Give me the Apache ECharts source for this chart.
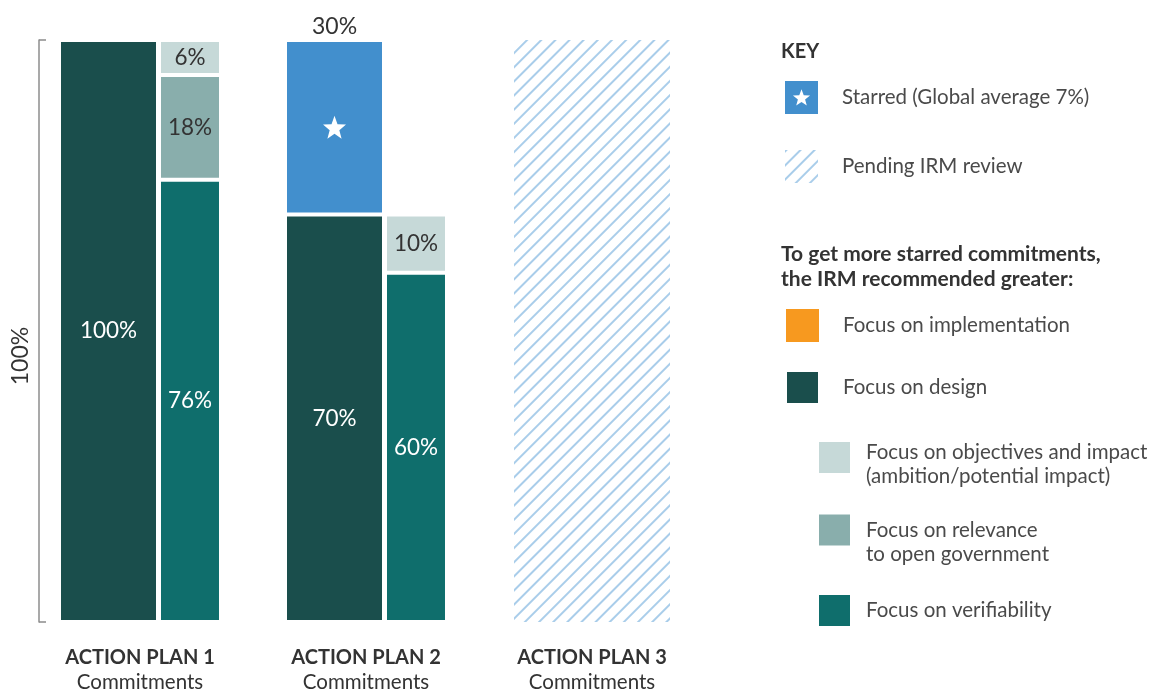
<!DOCTYPE html>
<html>
<head>
<meta charset="utf-8">
<script src="https://cdn.jsdelivr.net/npm/echarts@6/dist/echarts.min.js"></script>
<style>
  html, body { margin: 0; padding: 0; background: #fff; }
  #chart { width: 1158px; height: 689px; }
</style>
</head>
<body>
<div id="chart"></div>
<script>
// data
const categories = ["ACTION PLAN 1", "ACTION PLAN 2", "ACTION PLAN 3"];
const subLabel = "Commitments";
const design = [100, 70, "-"];
const starred = ["-", 30, "-"];
const verifiability = [76, 60, "-"];
const relevance = [18, 0, "-"];
const objectives = [6, 10, "-"];
const pending = ["-", "-", 100];
const implementation = ["-", "-", "-"];

const FONT = "Lato, 'Open Sans', sans-serif";
const TEXT = "#333333";

const names = {
  starred: "Starred (Global average 7%)",
  pending: "Pending IRM review",
  impl: "Focus on implementation",
  design: "Focus on design",
  objectives: "Focus on objectives and impact",
  relevance: "Focus on relevance to open government",
  verif: "Focus on verifiability"
};
// two-line legend entries; the first (blank) line pushes the text down next to its square
const legendText = {};
legendText[names.objectives] = "{e13| }\n{t|Focus on objectives and impact}\n{t|(ambition/potential impact)}";
legendText[names.relevance] = "{e24| }\n{t|Focus on relevance}\n{t|to open government}";

const colors = {
  starred: "#428fcd",
  design: "#1a4e4c",
  impl: "#f7991f",
  objectives: "#c6d9d8",
  relevance: "#89aeac",
  verif: "#0f6e6c",
  hatch: "#a9cdea"
};

function starPath(cx, cy, R) {
  const r = R * 0.42;
  let d = "";
  for (let i = 0; i < 10; i++) {
    const rad = i % 2 ? r : R;
    const a = -Math.PI / 2 + i * Math.PI / 5;
    d += (i ? "L" : "M") + (cx + rad * Math.cos(a)).toFixed(2) + " " + (cy + rad * Math.sin(a)).toFixed(2);
  }
  return d + "Z";
}
const starIcon = "image://data:image/svg+xml;charset=utf-8," + encodeURIComponent(
  "<svg xmlns='http://www.w3.org/2000/svg' width='66' height='66'>" +
  "<rect width='66' height='66' fill='" + colors.starred + "'/>" +
  "<path d='" + starPath(33, 34.5, 18) + "' fill='#ffffff'/></svg>");

const pct = p => (p.value ? p.value + "%" : "");
const border = { borderColor: "#ffffff", borderWidth: 2 };
const LEG_FS = 20.5;

const chart = echarts.init(document.getElementById("chart"));

function legendText_(padLeft) {
  return {
    fontFamily: FONT, fontSize: LEG_FS, color: "#4a4a4a", lineHeight: 24, padding: [0, 0, 0, padLeft],
    rich: {
      t: { fontFamily: FONT, fontSize: LEG_FS, color: "#4a4a4a", lineHeight: 24 },
      e13: { fontSize: 6, lineHeight: 13 },
      e24: { fontSize: 6, lineHeight: 24 }
    }
  };
}

const legendBase = {
  orient: "vertical",
  padding: 0,
  itemWidth: 33,
  itemHeight: 33,
  icon: "rect",
  selectedMode: false,
  formatter: n => legendText[n] || n,
  textStyle: legendText_(19)
};
const subLegend = Object.assign({}, legendBase, { left: 817, textStyle: legendText_(10) });

const option = {
  animation: false,
  textStyle: { fontFamily: FONT },
  title: [
    { text: "KEY", left: 781, top: 42, padding: 0, textStyle: { fontFamily: FONT, fontSize: 20, fontWeight: "bold", color: TEXT } },
    {
      text: "To get more starred commitments,\nthe IRM recommended greater:",
      left: 781, top: 242, padding: 0,
      textStyle: { fontFamily: FONT, fontSize: 21, fontWeight: "bold", color: TEXT, lineHeight: 25 }
    }
  ],
  legend: [
    Object.assign({}, legendBase, { left: 785, top: 81, itemGap: 36, data: [{ name: names.starred, icon: starIcon }, names.pending] }),
    Object.assign({}, legendBase, { left: 785, top: 309, itemGap: 28, data: [names.impl, names.design] }),
    Object.assign({}, subLegend, { top: 427, data: [names.objectives] }),
    Object.assign({}, subLegend, { top: 494, data: [names.relevance] }),
    Object.assign({}, subLegend, { top: 593, data: [names.verif] })
  ],
  grid: { left: 27, width: 678, top: 40, bottom: 67, outerBoundsMode: "none" },
  xAxis: [
    {
      type: "category",
      data: categories,
      axisLine: { show: false },
      axisTick: { show: false },
      axisLabel: {
        margin: 24,
        formatter: v => "{a|" + v + "}\n{b|" + subLabel + "}",
        rich: {
          a: { fontFamily: FONT, fontSize: 20, fontWeight: "bold", color: TEXT, lineHeight: 24 },
          b: { fontFamily: FONT, fontSize: 20.5, color: TEXT, lineHeight: 24 }
        }
      }
    },
    { type: "category", data: categories, show: false }
  ],
  yAxis: {
    type: "value",
    min: 0,
    max: 100,
    interval: 100,
    offset: -12,
    name: "100%",
    nameLocation: "middle",
    nameRotate: 90,
    nameGap: 7,
    nameTextStyle: { fontFamily: FONT, fontSize: 23, color: TEXT, padding: [0, 50, 0, 0] },
    axisLine: { show: true, lineStyle: { color: "#8c8c8c", width: 1.5 } },
    axisTick: { show: true, inside: true, length: 7, lineStyle: { color: "#8c8c8c", width: 1.5 } },
    axisLabel: { show: false },
    splitLine: { show: false }
  },
  series: [
    {
      name: names.design, type: "bar", stack: "main", barWidth: 99, barGap: "1%",
      data: design,
      itemStyle: Object.assign({ color: colors.design }, border),
      label: { show: true, position: "inside", formatter: pct, color: "#fff", fontSize: 22.5, fontFamily: FONT }
    },
    {
      name: names.starred, type: "bar", stack: "main", barWidth: 99,
      data: starred,
      itemStyle: Object.assign({ color: colors.starred }, border),
      label: { show: true, position: "top", distance: 2, formatter: pct, color: TEXT, fontSize: 23, fontFamily: FONT },
      markPoint: {
        symbol: "path://" + starPath(50, 50, 50),
        symbolSize: 23,
        itemStyle: { color: "#ffffff" },
        label: { show: false },
        data: [{ coord: [categories[1], design[1] + starred[1] / 2] }]
      }
    },
    {
      name: names.verif, type: "bar", stack: "sub", barWidth: 62,
      data: verifiability,
      itemStyle: Object.assign({ color: colors.verif }, border),
      label: { show: true, position: "inside", formatter: pct, color: "#fff", fontSize: 22.5, fontFamily: FONT }
    },
    {
      name: names.relevance, type: "bar", stack: "sub", barWidth: 62,
      data: relevance,
      itemStyle: Object.assign({ color: colors.relevance }, border),
      label: { show: true, position: "inside", formatter: pct, color: TEXT, fontSize: 22.5, fontFamily: FONT }
    },
    {
      name: names.objectives, type: "bar", stack: "sub", barWidth: 62,
      data: objectives,
      itemStyle: Object.assign({ color: colors.objectives }, border),
      label: { show: true, position: "inside", formatter: pct, color: TEXT, fontSize: 22.5, fontFamily: FONT }
    },
    {
      name: names.impl, type: "bar", stack: "p3", xAxisIndex: 1, barWidth: 156,
      data: implementation,
      itemStyle: { color: colors.impl }
    },
    {
      name: names.pending, type: "bar", stack: "p3", xAxisIndex: 1, barWidth: 156,
      data: pending,
      itemStyle: {
        color: "#ffffff",
        decal: {
          symbol: "rect",
          symbolSize: 1,
          color: colors.hatch,
          dashArrayX: [1, 0],
          dashArrayY: [2, 8],
          rotation: -Math.PI / 4
        }
      }
    }
  ]
};

chart.setOption(option);
</script>
</body>
</html>
